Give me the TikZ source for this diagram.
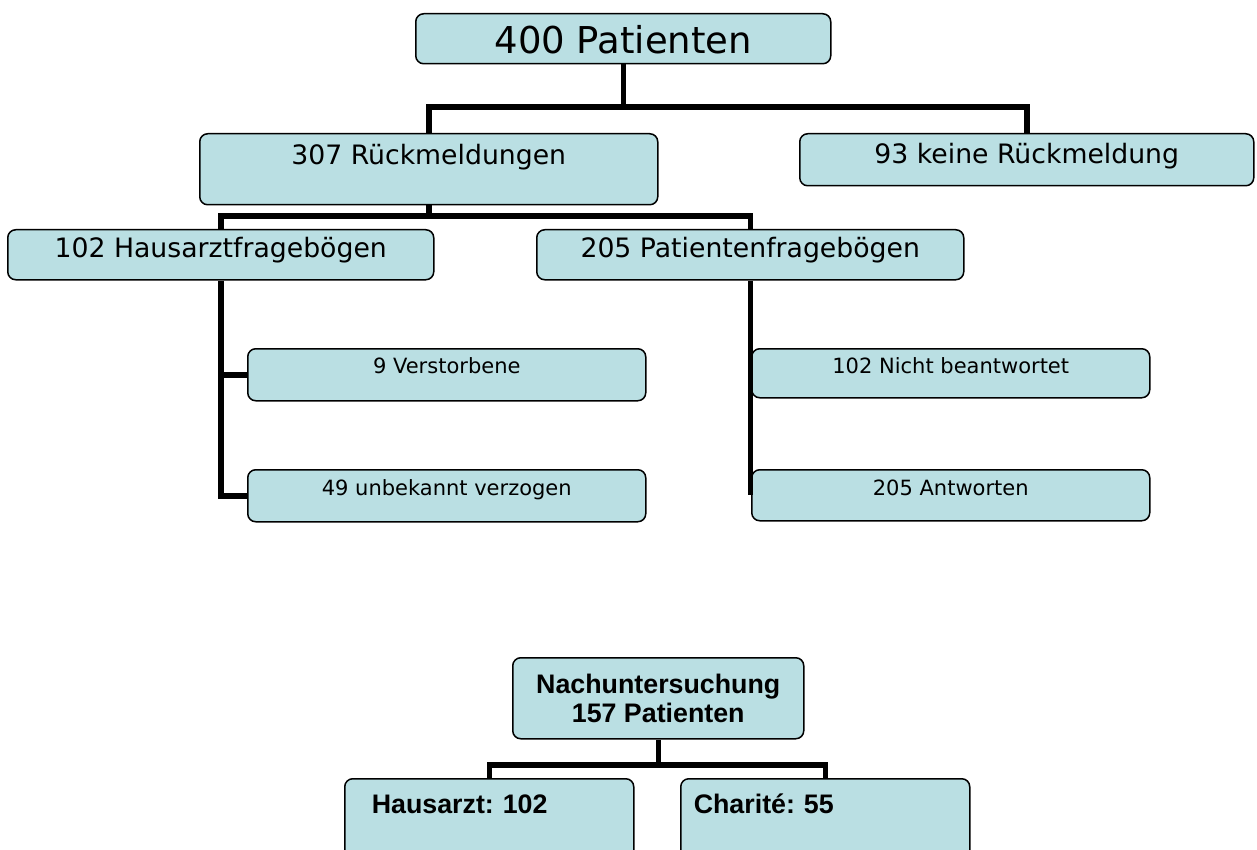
\documentclass[tikz,border=0pt]{standalone}
\usepackage{fontspec}
\setmainfont{DejaVu Sans}
\newfontfamily\arialfont{Liberation Sans}
\definecolor{boxfill}{RGB}{186,223,227}
\frenchspacing
\tikzset{
  box/.style={draw=black, fill=boxfill, line width=1.5pt, rounded corners=8pt,
    inner sep=0pt, anchor=north west, text=black},
  conn/.style={draw=black, line width=5.5pt},
  bigtxt/.style={font=\fontsize{37}{44}\selectfont},
  midtxt/.style={font=\fontsize{26.7}{31}\selectfont},
  smalltxt/.style={font=\fontsize{21}{25}\selectfont},
  boldtxt/.style={font=\arialfont\bfseries\fontsize{26.8}{28.5}\selectfont},
}
\begin{document}
\begin{tikzpicture}[x=1pt, y=-1pt]
\useasboundingbox (0,0) rectangle (1257,850);
% boxes
\node[box, bigtxt, minimum width=415pt, minimum height=50pt, text height=40pt, text depth=10pt] (top) at (415,13) {400 Patienten};
\node[box, midtxt, minimum width=458pt, minimum height=71pt, text height=31pt, text depth=40pt] (r307) at (199,133) {307 Rückmeldungen};
\node[box, midtxt, minimum width=454pt, minimum height=52pt, text height=30pt, text depth=22pt] (k93) at (799,133) {93 keine Rückmeldung};
\node[box, midtxt, minimum width=426pt, minimum height=50pt, text height=28pt, text depth=22pt] (h102) at (7,229) {102 Hausarztfragebögen};
\node[box, midtxt, minimum width=427pt, minimum height=50pt, text height=28pt, text depth=22pt] (p205) at (536,229) {205 Patientenfragebögen};
\node[box, smalltxt, minimum width=398pt, minimum height=52pt, text height=25pt, text depth=27pt] (v9) at (247,348) {9 Verstorbene};
\node[box, smalltxt, minimum width=398pt, minimum height=52pt, text height=26pt, text depth=26pt] (u49) at (247,469) {49 unbekannt verzogen};
\node[box, smalltxt, minimum width=398pt, minimum height=49pt, text height=25pt, text depth=24pt] (n102) at (751,348) {102 Nicht beantwortet};
\node[box, smalltxt, minimum width=398pt, minimum height=51pt, text height=26pt, text depth=25pt] (a205) at (751,469) {205 Antworten};
\node[box, boldtxt, minimum width=291pt, minimum height=81pt, align=center] (nach) at (512,657) {Nachuntersuchung\\157 Patienten};
\node[box, boldtxt, minimum height=92pt, text width=261pt, inner xsep=14pt, align=left, text height=35pt, text depth=57pt] (haus) at (344,778) {\hspace*{13pt}Hausarzt: 102};
\node[box, boldtxt, minimum height=92pt, text width=263pt, inner xsep=13pt, align=left, text height=35pt, text depth=57pt] (char) at (680,778) {Charité: 55};
% connectors
\draw[conn] (top.south) -- (top.south |- 0,107);
\draw[conn] (r307.north) -- ++(0,-26) -| (k93.north);
\draw[conn] (r307.south) -- (r307.south |- 0,216);
\draw[conn] (h102.north) -- ++(0,-13) -| (p205.north);
\draw[conn] (h102.south) |- (u49.west);
\draw[conn] (v9.west) -- (v9.west -| h102.south);
\draw[conn] (p205.south) -- (p205.south |- a205.west);
\draw[conn] (nach.south) -- (nach.south |- 0,765);
\draw[conn] (haus.north) -- ++(0,-13) -| (char.north);
\end{tikzpicture}
\end{document}
